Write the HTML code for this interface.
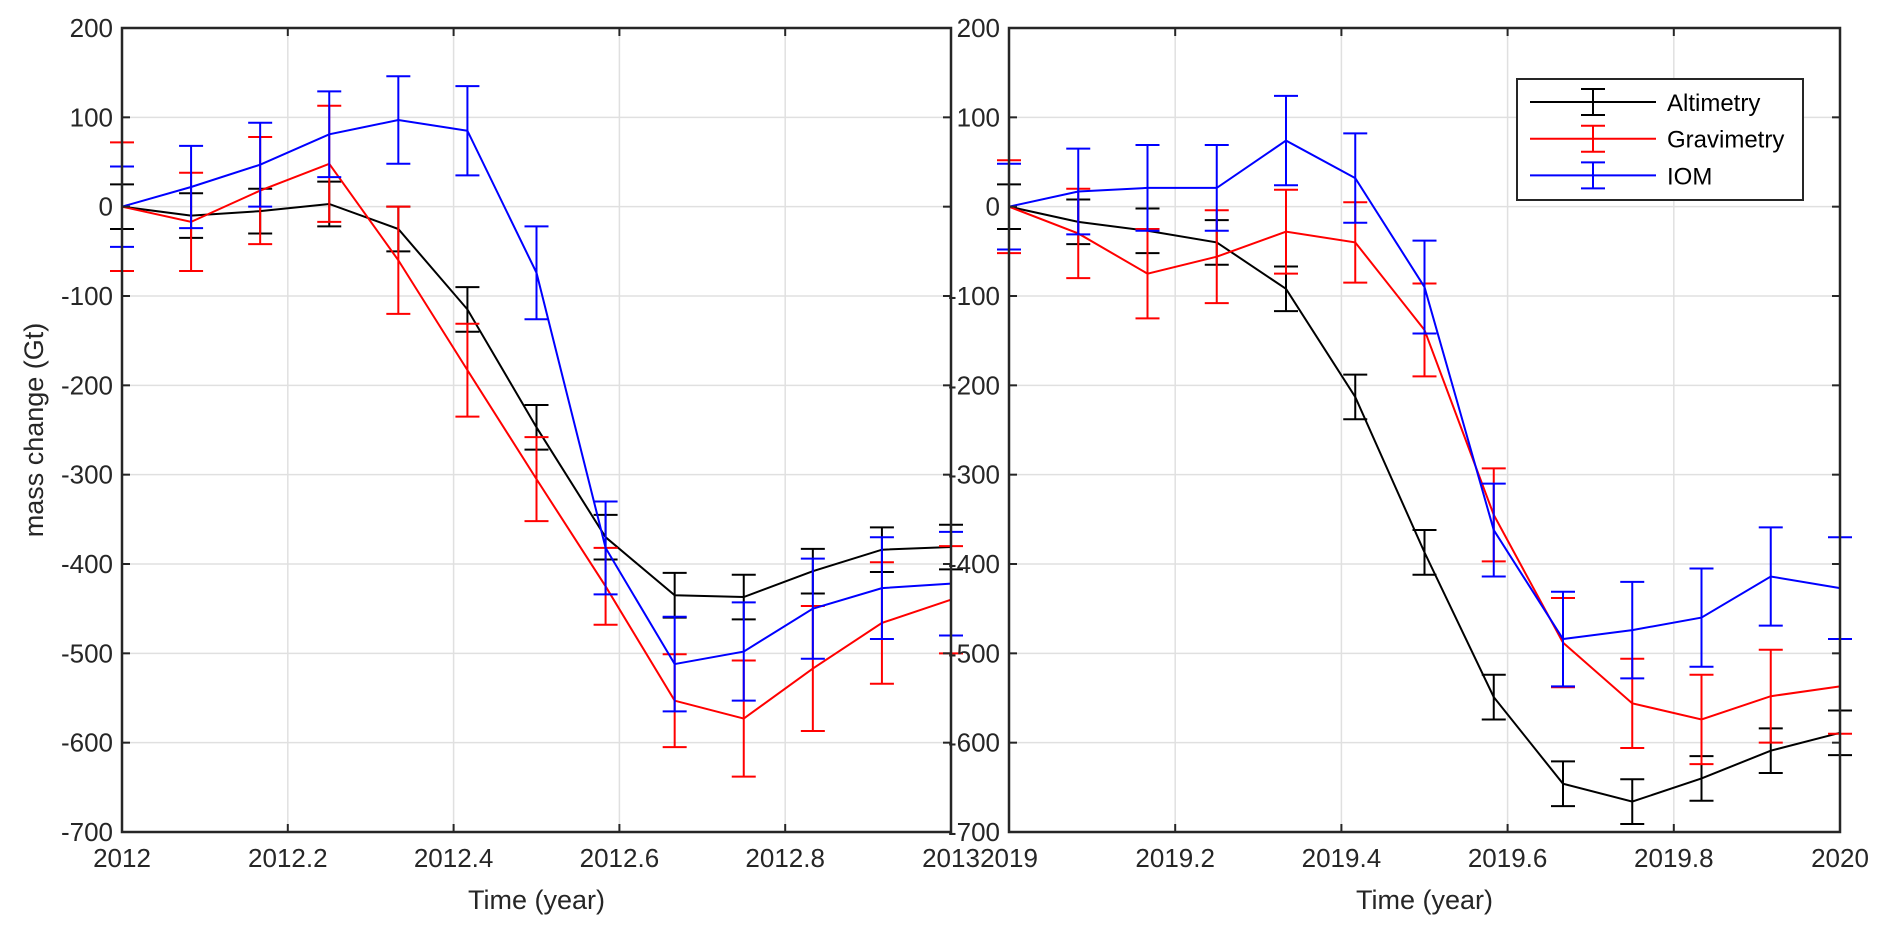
<!DOCTYPE html>
<html><head><meta charset="utf-8"><style>
body{margin:0;background:#fff}
svg{display:block;font-family:"Liberation Sans",sans-serif}
</style></head><body>
<svg id="chart" width="1892" height="935" viewBox="0 0 1892 935" xmlns="http://www.w3.org/2000/svg"></svg>
<script>
const yTicks = [200,100,0,-100,-200,-300,-400,-500,-600,-700];
const yTickLabels = ["200","100","0","-100","-200","-300","-400","-500","-600","-700"];
const monthsLeft = [2012,2012+1/12,2012+2/12,2012+3/12,2012+4/12,2012+5/12,2012+6/12,2012+7/12,2012+8/12,2012+9/12,2012+10/12,2012+11/12,2013];
const monthsRight = [2019,2019+1/12,2019+2/12,2019+3/12,2019+4/12,2019+5/12,2019+6/12,2019+7/12,2019+8/12,2019+9/12,2019+10/12,2019+11/12,2020];
const xTicksLeft = [2012,2012.2,2012.4,2012.6,2012.8,2013];
const xTickLabelsLeft = ["2012","2012.2","2012.4","2012.6","2012.8","2013"];
const xTicksRight = [2019,2019.2,2019.4,2019.6,2019.8,2020];
const xTickLabelsRight = ["2019","2019.2","2019.4","2019.6","2019.8","2020"];
const altLeft = [0,-10,-5,3,-25,-115,-247,-370,-435,-437,-408,-384,-381];
const altErrLeft = [25,25,25,25,25,25,25,25,25,25,25,25,25];
const gravLeft = [0,-17,18,48,-60,-183,-305,-425,-553,-573,-517,-466,-440];
const gravErrLeft = [72,55,60,65,60,52,47,43,52,65,70,68,60];
const iomLeft = [0,22,47,81,97,85,-74,-382,-512,-498,-450,-427,-422];
const iomErrLeft = [45,46,47,48,49,50,52,52,53,55,56,57,58];
const altRight = [0,-17,-27,-40,-92,-213,-387,-549,-646,-666,-640,-609,-589];
const altErrRight = [25,25,25,25,25,25,25,25,25,25,25,25,25];
const gravRight = [0,-30,-75,-56,-28,-40,-138,-345,-488,-556,-574,-548,-537];
const gravErrRight = [52,50,50,52,47,45,52,52,50,50,50,52,53];
const iomRight = [0,17,21,21,74,32,-90,-362,-484,-474,-460,-414,-427];
const iomErrRight = [48,48,48,48,50,50,52,52,53,54,55,55,57];

const NS="http://www.w3.org/2000/svg";
const svg=document.getElementById('chart');
function mk(tag,attrs,parent){const e=document.createElementNS(NS,tag);for(const k in attrs)e.setAttribute(k,attrs[k]);(parent||svg).appendChild(e);return e;}
const yTop=28,yBot=832;
function yS(v){return yTop+(200-v)/900*(yBot-yTop);}

function panel(name,x0,x1,xmin,xmax,xt,xtl,xs,series,showYLabel){
  const g=mk('g',{});
  
  
  const xS=v=>x0+(v-xmin)/(xmax-xmin)*(x1-x0);
  yTicks.forEach(v=>{const l=mk('line',{x1:x0,x2:x1,y1:yS(v),y2:yS(v),stroke:'#e0e0e0','stroke-width':1.5},g);});
  xt.forEach(v=>{const l=mk('line',{x1:xS(v),x2:xS(v),y1:yTop,y2:yBot,stroke:'#e0e0e0','stroke-width':1.5},g);});
  series.forEach(s=>{
    const sg=mk('g',{},g);
    
    
    const pts=s.v.map((v,i)=>xS(xs[i])+','+yS(v)).join(' ');
    const pl=mk('polyline',{points:pts,fill:'none',stroke:s.c,'stroke-width':2},sg);
    
    
    s.v.forEach((v,i)=>{
      const x=xS(xs[i]),a=yS(v+s.e[i]),b=yS(v-s.e[i]);
      const p=mk('path',{d:`M${x},${a}V${b}M${x-12},${a}H${x+12}M${x-12},${b}H${x+12}`,stroke:s.c,'stroke-width':2,fill:'none'},sg);
      
      
    });
  });
  const r=mk('rect',{x:x0,y:yTop,width:x1-x0,height:yBot-yTop,fill:'none',stroke:'#262626','stroke-width':2.5},g);
  
  yTicks.forEach((v,i)=>{
    mk('line',{x1:x0,x2:x0+8,y1:yS(v),y2:yS(v),stroke:'#262626','stroke-width':2},g);
    mk('line',{x1:x1,x2:x1-8,y1:yS(v),y2:yS(v),stroke:'#262626','stroke-width':2},g);
    const t=mk('text',{x:x0-9,y:yS(v)+9,'text-anchor':'end','font-size':26,fill:'#262626'},g);
    t.textContent=yTickLabels[i];
    
  });
  xt.forEach((v,i)=>{
    mk('line',{x1:xS(v),x2:xS(v),y1:yBot,y2:yBot-8,stroke:'#262626','stroke-width':2},g);
    mk('line',{x1:xS(v),x2:xS(v),y1:yTop,y2:yTop+8,stroke:'#262626','stroke-width':2},g);
    const t=mk('text',{x:xS(v),y:yBot+35,'text-anchor':'middle','font-size':26,fill:'#262626'},g);
    t.textContent=xtl[i];
    
  });
  const xl=mk('text',{x:(x0+x1)/2,y:yBot+77,'text-anchor':'middle','font-size':27,fill:'#262626'},g);
  xl.textContent='Time (year)';
  
  if(showYLabel){
    const yl=mk('text',{x:0,y:0,'text-anchor':'middle','font-size':27,fill:'#262626',transform:`translate(43,${(yTop+yBot)/2}) rotate(-90)`},g);
    yl.textContent='mass change (Gt)';
    
  }
}
panel('left-panel',122,951,2012,2013,xTicksLeft,xTickLabelsLeft,monthsLeft,[
  {name:'altimetry-2012',c:'#000',v:altLeft,e:altErrLeft},
  {name:'gravimetry-2012',c:'#f00',v:gravLeft,e:gravErrLeft},
  {name:'iom-2012',c:'#00f',v:iomLeft,e:iomErrLeft}],true);
panel('right-panel',1009,1840,2019,2020,xTicksRight,xTickLabelsRight,monthsRight,[
  {name:'altimetry-2019',c:'#000',v:altRight,e:altErrRight},
  {name:'gravimetry-2019',c:'#f00',v:gravRight,e:gravErrRight},
  {name:'iom-2019',c:'#00f',v:iomRight,e:iomErrRight}],false);

const lg=mk('g',{});


mk('rect',{x:1517,y:79,width:286,height:121,fill:'#fff',stroke:'#262626','stroke-width':2},lg);
[['Altimetry','#000'],['Gravimetry','#f00'],['IOM','#00f']].forEach((d,i)=>{
  const y=102+i*36.7;
  const eg=mk('g',{},lg);
  
  
  mk('path',{d:`M1530,${y}H1656M1593,${y-13}V${y+13}M1581,${y-13}H1605M1581,${y+13}H1605`,stroke:d[1],'stroke-width':2,fill:'none'},eg);
  const t=mk('text',{x:1667,y:y+9,'font-size':24,fill:'#000'},eg);
  t.textContent=d[0];
});
</script>
</body></html>
